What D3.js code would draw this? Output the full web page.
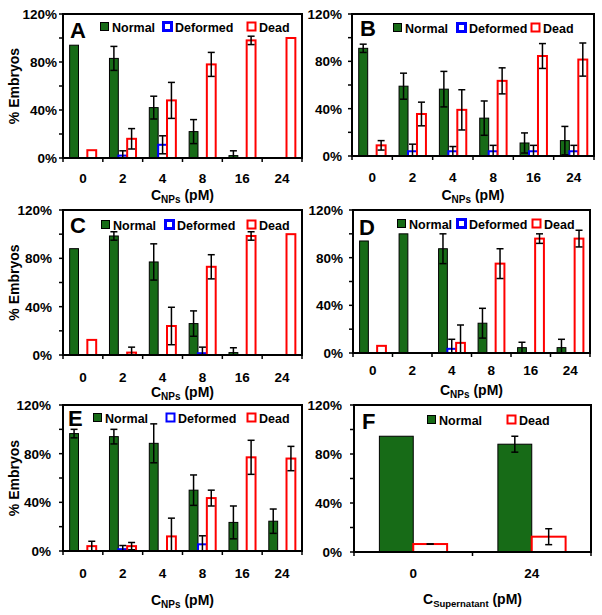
<!DOCTYPE html>
<html>
<head>
<meta charset="utf-8">
<script src="https://cdn.jsdelivr.net/npm/d3@7"></script>
<style>
  html, body { margin: 0; padding: 0; background: #fff; }
  svg { display: block; }
  text { font-family: "Liberation Sans", Arial, sans-serif; font-weight: bold; fill: #000; }
</style>
</head>
<body>
<svg id="chart" width="602" height="615"></svg>
<script>
// ---------------- DATA ----------------
const doses = ["0", "2", "4", "8", "16", "24"];
const supernatantDoses = ["0", "24"];
const seriesKeys = ["normal", "deformed", "dead"];
const seriesLabels = ["Normal", "Deformed", "Dead"];
const yTickValues = [0, 20, 40, 60, 80, 100, 120];
const yLabelValues = [0, 40, 80, 120];

// Panel A
const normalA = [94, 83, 42, 22, 2, null];
const normalErrA = [null, 10, 9.5, 10, 4, null];
const deformedA = [null, 2, 11, null, null, null];
const deformedErrA = [null, 4, 7.5, null, null, null];
const deadA = [6.5, 16, 48, 78, 98, 100];
const deadErrA = [null, 8.5, 15, 10, 3.5, null];

// Panel B
const normalB = [91, 59, 56.5, 32, 11, 13];
const normalErrB = [3.5, 11, 15, 14.5, 8.5, 12];
const deformedB = [null, 4, 4, 4, 4, 4];
const deformedErrB = [null, 6, 4, 5, 5, 5];
const deadB = [9, 35.5, 39, 63.5, 84.5, 81.5];
const deadErrB = [4, 10, 17, 11, 10.5, 14];

// Panel C
const normalC = [88, 98.5, 77, 26, 2, null];
const normalErrC = [null, 3.5, 15, 10.5, 4, null];
const deformedC = [null, null, null, 1.5, null, null];
const deformedErrC = [null, null, null, 5, null, null];
const deadC = [12.5, 2, 24, 73, 98.5, 100];
const deadErrC = [null, 4.5, 15.5, 10, 3.5, null];

// Panel D
const normalD = [94, 100, 87.5, 25, 4.5, 4.5];
const normalErrD = [null, null, 12.5, 12.5, 4.5, 7];
const deformedD = [null, null, 3.5, null, null, null];
const deformedErrD = [null, null, 8, null, null, null];
const deadD = [6, null, 8.5, 75, 96, 96];
const deadErrD = [null, null, 15, 12.5, 4, 7];

// Panel E
const normalE = [96.5, 94, 88.5, 50, 23.5, 24.5];
const normalErrE = [3.5, 6, 16, 12.5, 13.5, 10];
const deformedE = [null, 1.5, null, 5.5, null, null];
const deformedErrE = [null, 3, null, 7, null, null];
const deadE = [4, 4, 12, 43.5, 77, 76];
const deadErrE = [4, 3, 15, 6.5, 14, 10];

// Panel F
const normalF = [94.5, 88];
const normalErrF = [null, 6.5];
const deadF = [6.5, 12.5];
const deadErrF = [0, 6.5];

// ---------------- LAYOUT ----------------
const panels = [
  { id: "A", cats: doses, sub: "NPs", left: 63, right: 302, top: 14, bottom: 158, gap: 6, yTitle: true,
    letterDx: 7, letterBase: 38, legendY: 27, legendX: [100, 163, 247], tickBase: 183, titleBase: 200,
    series: { normal: [normalA, normalErrA], deformed: [deformedA, deformedErrA], dead: [deadA, deadErrA] } },
  { id: "B", cats: doses, sub: "NPs", left: 352, right: 594, top: 14, bottom: 156, gap: 10, yTitle: false,
    letterDx: 8, letterBase: 36, legendY: 28, legendX: [393, 457, 531], tickBase: 182, titleBase: 200,
    series: { normal: [normalB, normalErrB], deformed: [deformedB, deformedErrB], dead: [deadB, deadErrB] } },
  { id: "C", cats: doses, sub: "NPs", left: 63, right: 302, top: 210, bottom: 355, gap: 11, yTitle: true,
    letterDx: 7, letterBase: 233, legendY: 225, legendX: [101, 165, 247], tickBase: 382, titleBase: 397,
    series: { normal: [normalC, normalErrC], deformed: [deformedC, deformedErrC], dead: [deadC, deadErrC] } },
  { id: "D", cats: doses, sub: "NPs", left: 353, right: 590, top: 210, bottom: 353, gap: 10, yTitle: false,
    letterDx: 6, letterBase: 235, legendY: 224, legendX: [397, 457, 532], tickBase: 375, titleBase: 395,
    series: { normal: [normalD, normalErrD], deformed: [deformedD, deformedErrD], dead: [deadD, deadErrD] } },
  { id: "E", cats: doses, sub: "NPs", left: 63, right: 302, top: 405, bottom: 551, gap: 12, yTitle: true,
    letterDx: 5, letterBase: 426, legendY: 418, legendX: [93, 166, 247], tickBase: 578, titleBase: 605,
    series: { normal: [normalE, normalErrE], deformed: [deformedE, deformedErrE], dead: [deadE, deadErrE] } },
  { id: "F", cats: supernatantDoses, sub: "Supernatant", left: 354, right: 591, top: 405, bottom: 552, gap: 12, yTitle: false,
    letterDx: 8, letterBase: 429, legendY: 420, legendX: [427, null, 507], tickBase: 578, titleBase: 604,
    series: { normal: [normalF, normalErrF], dead: [deadF, deadErrF] } }
];

const styles = {
  normal:   { fill: "#176b17", stroke: "#000", sw: 1 },
  deformed: { fill: "#fff", stroke: "#0000ff", sw: 2 },
  dead:     { fill: "#fff", stroke: "#ff0000", sw: 2 }
};

const svg = d3.select("#chart");
svg.append("rect").attr("width", 602).attr("height", 615).attr("fill", "#fff");

panels.forEach(p => {
  const g = svg.append("g");
  const keys = seriesKeys.filter(k => p.series[k]);
  const x0 = d3.scaleBand().domain(p.cats).range([p.left, p.right]).paddingInner(0).paddingOuter(0);
  const x1 = d3.scaleBand().domain(keys).range([0, x0.bandwidth()]).paddingInner(0).paddingOuter(0.75);
  const y = d3.scaleLinear().domain([0, 120]).range([p.bottom, p.top]);
  const bw = x1.bandwidth();

  // bars
  keys.forEach(k => {
    const [vals] = p.series[k];
    const st = styles[k];
    g.selectAll(null).data(p.cats.map((c, i) => ({ c, v: vals[i] })).filter(d => d.v != null))
      .enter().append("rect")
      .attr("x", d => x0(d.c) + x1(k))
      .attr("y", d => y(d.v))
      .attr("width", bw)
      .attr("height", d => y(0) - y(d.v))
      .attr("fill", st.fill)
      .attr("stroke", st.stroke)
      .attr("stroke-width", st.sw);
  });

  // error bars
  keys.forEach(k => {
    const [vals, errs] = p.series[k];
    p.cats.forEach((c, i) => {
      const v = vals[i], e = errs[i];
      if (v == null || e == null) return;
      const cx = x0(c) + x1(k) + bw / 2;
      const yHi = y(v + e), yLo = y(Math.max(0, v - e));
      const eg = g.append("g").attr("stroke", "#000").attr("stroke-width", 1.5);
      eg.append("line").attr("x1", cx).attr("x2", cx).attr("y1", yHi).attr("y2", yLo);
      eg.append("line").attr("x1", cx - 3.5).attr("x2", cx + 3.5).attr("y1", yHi).attr("y2", yHi);
      eg.append("line").attr("x1", cx - 3.5).attr("x2", cx + 3.5).attr("y1", yLo).attr("y2", yLo);
    });
  });

  // frame
  g.append("rect").attr("x", p.left).attr("y", p.top)
    .attr("width", p.right - p.left).attr("height", p.bottom - p.top)
    .attr("fill", "none").attr("stroke", "#000").attr("stroke-width", 2);

  // y ticks
  g.selectAll(null).data(yTickValues).enter().append("line")
    .attr("x1", p.left - 4).attr("x2", p.left)
    .attr("y1", d => y(d)).attr("y2", d => y(d))
    .attr("stroke", "#000").attr("stroke-width", 1.5);
  g.selectAll(null).data(yLabelValues).enter().append("text")
    .attr("x", p.left - p.gap).attr("y", d => y(d)).attr("dy", "0.36em")
    .attr("text-anchor", "end").style("font-size", "13.5px")
    .text(d => d + "%");

  // x ticks at group boundaries
  const bounds = p.cats.map(c => x0(c)).concat([p.right]);
  g.selectAll(null).data(bounds).enter().append("line")
    .attr("x1", d => d).attr("x2", d => d)
    .attr("y1", p.bottom).attr("y2", p.bottom + 4)
    .attr("stroke", "#000").attr("stroke-width", 1.5);
  g.selectAll(null).data(p.cats).enter().append("text")
    .attr("x", d => x0(d) + x0.bandwidth() / 2).attr("y", p.tickBase)
    .attr("text-anchor", "middle").style("font-size", "13.5px")
    .text(d => d);

  // x title
  const xt = g.append("text").attr("x", (p.left + p.right) / 2).attr("y", p.titleBase)
    .attr("text-anchor", "middle").style("font-size", "14px");
  xt.append("tspan").text("C");
  xt.append("tspan").attr("dy", 3).style("font-size", p.sub.length > 4 ? "9.5px" : "10px").text(p.sub);
  xt.append("tspan").attr("dy", -3).text(" (pM)");

  // y title
  if (p.yTitle) {
    const cy = (p.top + p.bottom) / 2;
    g.append("text").attr("transform", `translate(19,${cy}) rotate(-90)`)
      .attr("text-anchor", "middle").style("font-size", "14px").text("% Embryos");
  }

  // panel letter
  g.append("text").attr("x", p.left + p.letterDx).attr("y", p.letterBase)
    .style("font-size", "22px").text(p.id);

  // legend
  seriesKeys.forEach((k, i) => {
    const lx = p.legendX[i];
    if (lx == null || !p.series[k]) return;
    const st = styles[k];
    const thick = (k === "deformed" && p.id !== "E") ? 3 : st.sw;
    g.append("rect").attr("x", lx + 0.5).attr("y", p.legendY - 4.5)
      .attr("width", 8).attr("height", 8)
      .attr("fill", st.fill).attr("stroke", st.stroke).attr("stroke-width", thick);
    g.append("text").attr("x", lx + 12).attr("y", p.legendY).attr("dy", "0.36em")
      .style("font-size", "12.5px").text(seriesLabels[i]);
  });
});
</script>
</body>
</html>
